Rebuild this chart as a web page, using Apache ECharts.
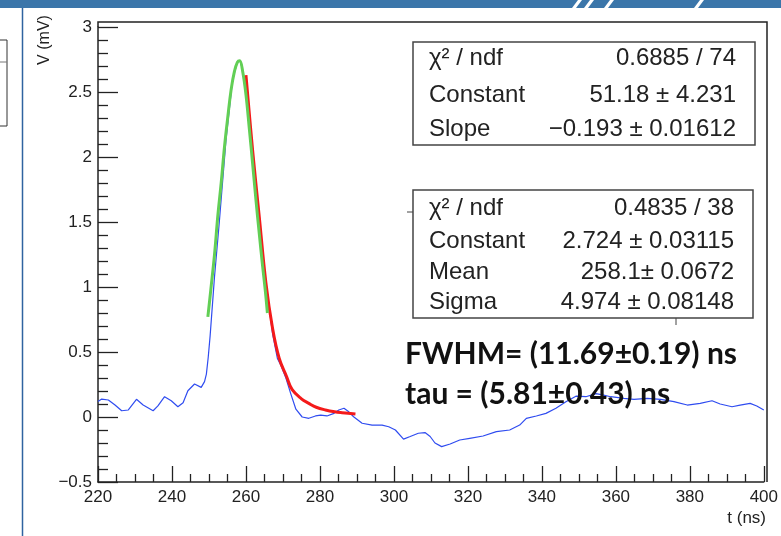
<!DOCTYPE html>
<html>
<head>
<meta charset="utf-8">
<script src="https://cdn.jsdelivr.net/npm/echarts@6/dist/echarts.min.js"></script>
<style>
  html, body { margin: 0; padding: 0; background: #fff; }
  #chart { width: 781px; height: 536px; }
</style>
</head>
<body>
<div id="chart"></div>
<script>
// ---------------------------------------------------------------------------
// data (t in ns, V in mV)
// ---------------------------------------------------------------------------
const traceT = [220, 221, 222.8, 224.6, 226.4, 228.2, 230.4, 232.2, 234.9, 236.2, 238, 239.8,
  241.6, 243, 244.3, 246.1, 247.9, 248.8, 249.3, 249.8, 250.3, 251.5, 252.8, 254.6, 256.4,
  257.7, 258.4, 259.1, 260.9, 262.7, 264, 265.4, 267.2, 268.5, 269.4, 270.8, 272.1, 273.5,
  275.2, 277, 278.8, 280.2, 281.9, 283.8, 285.1, 286.5, 287.8, 289.1, 291.4, 294.1, 296.8,
  298.6, 300.4, 302.6, 304.4, 306.6, 308.4, 309.8, 311.1, 312.9, 315.2, 317.8, 320.5, 324.1,
  327.7, 331.3, 334, 335.8, 338.5, 341.1, 343.8, 346.5, 349.2, 351.9, 354.6, 356.4, 358.6,
  362.2, 364.9, 368.5, 372.1, 375.7, 379.3, 382.8, 386, 388.2, 391.4, 393.6, 396.3, 398.1, 400];
const traceV = [0.12, 0.138, 0.131, 0.092, 0.048, 0.054, 0.136, 0.092, 0.048, 0.085, 0.156, 0.125,
  0.079, 0.11, 0.202, 0.254, 0.228, 0.272, 0.33, 0.46, 0.62, 1.08, 1.5, 2.13, 2.6,
  2.73, 2.74, 2.67, 2.31, 1.75, 1.38, 1.03, 0.64, 0.45, 0.4, 0.3, 0.18, 0.06,
  0.0, -0.01, 0.008, 0.015, 0.008, 0.028, 0.054, 0.067, 0.04, 0.002, -0.048, -0.062, -0.062,
  -0.075, -0.1, -0.17, -0.15, -0.125, -0.12, -0.15, -0.2, -0.228, -0.208, -0.177, -0.164, -0.146,
  -0.113, -0.1, -0.062, -0.01, 0.008, 0.028, 0.067, 0.118, 0.16, 0.156, 0.18, 0.17, 0.156,
  0.144, 0.136, 0.144, 0.136, 0.118, 0.092, 0.105, 0.125, 0.1, 0.079, 0.092, 0.105, 0.085, 0.054];

// gaussian fit (green)
const gausT = [249.7, 250.5, 251.5, 252.4, 253.3, 254.2, 255.1, 256, 256.9, 257.7, 258.3,
  259.1, 260, 260.9, 261.8, 262.7, 263.6, 264.5, 265.2, 265.8];
const gausV = [0.77, 0.98, 1.25, 1.55, 1.8, 2.08, 2.31, 2.52, 2.66, 2.73, 2.74,
  2.66, 2.48, 2.22, 1.95, 1.67, 1.41, 1.16, 0.98, 0.8];

// exponential fit (red)
const expoT = [260, 261.8, 263.6, 265.4, 267.2, 269, 271, 272.5, 275, 277, 279, 281.5, 284, 286, 289.6];
const expoV = [2.63, 2.05, 1.54, 1.03, 0.68, 0.45, 0.31, 0.21, 0.14, 0.105, 0.075, 0.054, 0.04, 0.033, 0.023];

const xTicks = { min: 220, max: 400, step: 20 };
const yTicks = { min: -0.5, max: 3, step: 0.5 };

const expoStats = [
  ['\u03c7\u00b2 / ndf', '0.6885 / 74'],
  ['Constant', '51.18 \u00b1 4.231'],
  ['Slope', '\u22120.193 \u00b1 0.01612']
];
const gausStats = [
  ['\u03c7\u00b2 / ndf', '0.4835 / 38'],
  ['Constant', '2.724 \u00b1 0.03115'],
  ['Mean', '258.1\u00b1 0.0672'],
  ['Sigma', '4.974 \u00b1 0.08148']
];
const resultLines = ['FWHM= (11.69\u00b10.19) ns', 'tau = (5.81\u00b10.43) ns'];

// ---------------------------------------------------------------------------
const pairs = (xs, ys) => xs.map((x, i) => [x, ys[i]]);

const axisFont = "'Liberation Sans', Arial, sans-serif";
const statFont = "24px 'Liberation Sans', Arial, sans-serif";
const ink = '#222';

const statBox = (x, y, w, rowY, rows) => {
  const els = [{
    type: 'rect',
    shape: { x, y, width: w, height: rowY[rowY.length - 1] - y + 16 },
    style: { fill: '#fff', stroke: '#444', lineWidth: 1.5 }
  }];
  rows.forEach((r, i) => {
    els.push({
      type: 'text',
      style: { text: r[0], x: x + 16, y: rowY[i], font: statFont, fill: ink, textVerticalAlign: 'middle' }
    });
    els.push({
      type: 'text',
      style: { text: r[1], x: x + w - 19, y: rowY[i], font: statFont, fill: ink, textAlign: 'right', textVerticalAlign: 'middle' }
    });
  });
  return els;
};

const slash = x => ({
  type: 'polygon',
  shape: { points: [[x, 8], [x + 4, 8], [x + 10, 0], [x + 6, 0]] },
  style: { fill: '#fff' }
});

const chart = echarts.init(document.getElementById('chart'));

chart.setOption({
  animation: false,
  backgroundColor: '#fff',
  grid: { left: 98, right: 14, top: 27, bottom: 54, show: false },
  xAxis: {
    type: 'value',
    min: xTicks.min,
    max: xTicks.max,
    interval: xTicks.step,
    axisLine: { show: true, onZero: false, lineStyle: { color: ink, width: 1.5 } },
    axisTick: { show: true, inside: true, length: 16, lineStyle: { color: ink, width: 1.3 } },
    minorTick: { show: true, splitNumber: 4, length: 8, lineStyle: { color: ink, width: 1.3 } },
    splitLine: { show: false },
    axisLabel: { color: ink, fontFamily: axisFont, fontSize: 17, margin: 7 }
  },
  yAxis: {
    type: 'value',
    min: yTicks.min,
    max: yTicks.max,
    interval: yTicks.step,
    axisLine: { show: true, onZero: false, lineStyle: { color: ink, width: 1.5 } },
    axisTick: { show: true, inside: true, length: 20, lineStyle: { color: ink, width: 1.3 } },
    minorTick: { show: true, splitNumber: 5, length: 10, lineStyle: { color: ink, width: 1.3 } },
    splitLine: { show: false },
    axisLabel: {
      color: ink, fontFamily: axisFont, fontSize: 17, margin: 6,
      formatter: v => (v < 0 ? '\u2212' + Math.abs(v) : String(v))
    }
  },
  series: [
    {
      name: 'trace',
      type: 'line',
      data: pairs(traceT, traceV),
      showSymbol: false,
      lineStyle: { color: '#2f4cf0', width: 1.2 },
      z: 2
    },
    {
      name: 'expo',
      type: 'line',
      data: pairs(expoT, expoV),
      smooth: 0.4,
      showSymbol: false,
      lineStyle: { color: '#f41a1a', width: 3 },
      z: 3
    },
    {
      name: 'gaus',
      type: 'line',
      data: pairs(gausT, gausV),
      smooth: 0.4,
      showSymbol: false,
      lineStyle: { color: '#62cf55', width: 3 },
      z: 4
    }
  ],
  graphic: {
    elements: [
      // slide decoration
      { type: 'rect', shape: { x: 0, y: 0, width: 781, height: 8 }, style: { fill: '#3b76aa' }, silent: true },
      slash(572), slash(584), slash(604), slash(694),
      { type: 'line', shape: { x1: 22.5, y1: 8, x2: 22.5, y2: 536 }, style: { stroke: '#2f63a0', lineWidth: 1.5 } },
      { type: 'rect', shape: { x: -2, y: 40, width: 9, height: 86 }, style: { fill: 'none', stroke: '#333', lineWidth: 1 } },
      { type: 'line', shape: { x1: 0, y1: 62, x2: 7, y2: 62 }, style: { stroke: '#777', lineWidth: 1 } },
      // frame
      { type: 'polyline', shape: { points: [[98, 27], [98, 22], [767, 22], [767, 482]] }, style: { stroke: ink, lineWidth: 1.5, fill: 'none' } },
      // axis titles
      {
        type: 'text', x: 45, y: 40, rotation: Math.PI / 2,
        style: { text: 'V (mV)', font: "16px " + axisFont, fill: ink, textAlign: 'center', textVerticalAlign: 'middle' }
      },
      {
        type: 'text',
        style: { text: 't (ns)', x: 766, y: 518, font: "17px " + axisFont, fill: ink, textAlign: 'right', textVerticalAlign: 'middle' }
      },
      // stat boxes
      ...statBox(413, 42, 342, [58, 95, 129], expoStats),
      { type: 'line', shape: { x1: 407, y1: 212, x2: 413, y2: 212 }, style: { stroke: '#444', lineWidth: 1 } },
      { type: 'line', shape: { x1: 676, y1: 318, x2: 676, y2: 325 }, style: { stroke: '#444', lineWidth: 1 } },
      ...statBox(413, 190, 340, [208, 241, 272, 302], gausStats),
      // fit results
      {
        type: 'text', z: 10,
        style: { text: resultLines[0], x: 405, y: 354, font: "bold 30px Lato, 'Open Sans', sans-serif", fill: '#111', textVerticalAlign: 'middle' }
      },
      {
        type: 'text', z: 10,
        style: { text: resultLines[1], x: 405, y: 394, font: "bold 30px Lato, 'Open Sans', sans-serif", fill: '#111', textVerticalAlign: 'middle' }
      }
    ]
  }
});
</script>
</body>
</html>
